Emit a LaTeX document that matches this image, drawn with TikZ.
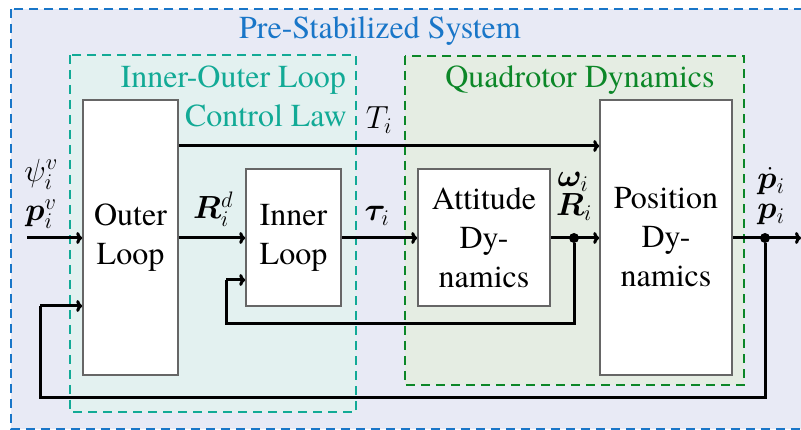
\RequirePackage{fix-cm}
\documentclass[tikz,border=0pt]{standalone}
\usepackage{amsmath}
\usepackage{bm}
\usepackage{fontspec}
\IfFontExistsTF{texgyretermes-regular.otf}{\setmainfont{texgyretermes-regular.otf}}{\setmainfont{Liberation Serif}}
\usetikzlibrary{arrows.meta}
\definecolor{bluefill}{RGB}{232,234,245}
\definecolor{bluedash}{RGB}{25,118,200}
\definecolor{tealfill}{RGB}{227,241,240}
\definecolor{tealdash}{RGB}{18,170,150}
\definecolor{greenfill}{RGB}{229,237,227}
\definecolor{greendash}{RGB}{12,135,40}
\tikzset{
  every node/.style={font=\fontsize{32}{39}\selectfont, inner sep=0pt},
  region/.style={line width=2.2pt, dash pattern=on 9pt off 6pt},
  blk/.style={draw=black!60, fill=white, line width=1.6pt, align=center},
  sig/.style={line width=3pt, -{To[length=6pt,width=12pt]}},
  fb/.style={line width=3pt},
  dot/.style={circle, fill=black, minimum size=10pt},
}
\begin{document}
\begin{tikzpicture}[x=1pt,y=-1pt]
\useasboundingbox (0,0) rectangle (801,430);
% regions
\draw[region, draw=bluedash, fill=bluefill] (11,9) rectangle (812,429);
\draw[region, draw=tealdash, fill=tealfill] (70,55) rectangle (356,412);
\draw[region, draw=greendash, fill=greenfill] (405,56) rectangle (744,385);
\node[text=bluedash, anchor=base] (pss) at (380,39) {Pre-Stabilized System};
\node[text=tealdash, anchor=base east] (iol) at (346,88) {Inner-Outer Loop};
\node[text=tealdash, anchor=base east] (clw) at (347,127) {Control Law};
\node[text=greendash, anchor=base] (qd) at (580,88) {Quadrotor Dynamics};
% blocks
\node[blk, minimum width=95pt, minimum height=275pt] (outer) at (130.5,237.5) {Outer\\Loop};
\node[blk, minimum width=95pt, minimum height=137pt] (inner) at (293.5,237.5) {Inner\\Loop};
\node[blk, minimum width=132pt, minimum height=137pt] (att) at (484,237.5) {Attitude\\Dy-\\namics};
\node[blk, minimum width=132pt, minimum height=275pt] (pos) at (666,237.5) {Position\\Dy-\\namics};
% coordinates
\coordinate (in) at (27,238);
\coordinate (out) at (801,238);
\node[dot] (d1) at (574,238) {};
\node[dot] (d2) at (765,238) {};
\coordinate (f1a) at (574,324);
\coordinate (f1b) at (226,324);
\coordinate (f1c) at (226,280);
\coordinate (f2a) at (765,398);
\coordinate (f2b) at (40,398);
\coordinate (f2c) at (40,306);
% signals
\draw[sig] (in) -- (in -| outer.west);
\draw[sig] (outer.east |- 0,238) -- (inner.west |- 0,238);
\draw[sig] (inner.east |- 0,238) -- (att.west |- 0,238);
\draw[sig] (att.east |- 0,238) -- (pos.west |- 0,238);
\draw[sig] (pos.east |- 0,238) -- (out);
\draw[sig] (outer.east |- 0,146) -- (pos.west |- 0,146);
\draw[fb] (d1) -- (f1a) -- (f1b) -- (f1c);
\draw[sig] (f1c) -- (inner.west |- f1c);
\draw[fb] (d2) -- (f2a) -- (f2b) -- (f2c);
\draw[sig] (f2c) -- (outer.west |- f2c);
% labels
\node (lpsi) at (41,174) {$\psi_i^v$};
\node (lpv) at (41,214) {$\bm{p}_i^v$};
\node (lrd) at (213,209) {$\bm{R}_i^d$};
\node (ltau) at (377,216) {$\bm{\tau}_i$};
\node (lT) at (379,120) {$T_i$};
\node[anchor=base] (lom) at (573,187) {$\bm{\omega}_i$};
\node[anchor=base] (lR) at (574,216) {$\bm{R}_i$};
\node[anchor=base] (lpd) at (771,189) {$\dot{\bm{p}}_i$};
\node[anchor=base] (lp) at (771,219) {$\bm{p}_i$};
\end{tikzpicture}
\end{document}
